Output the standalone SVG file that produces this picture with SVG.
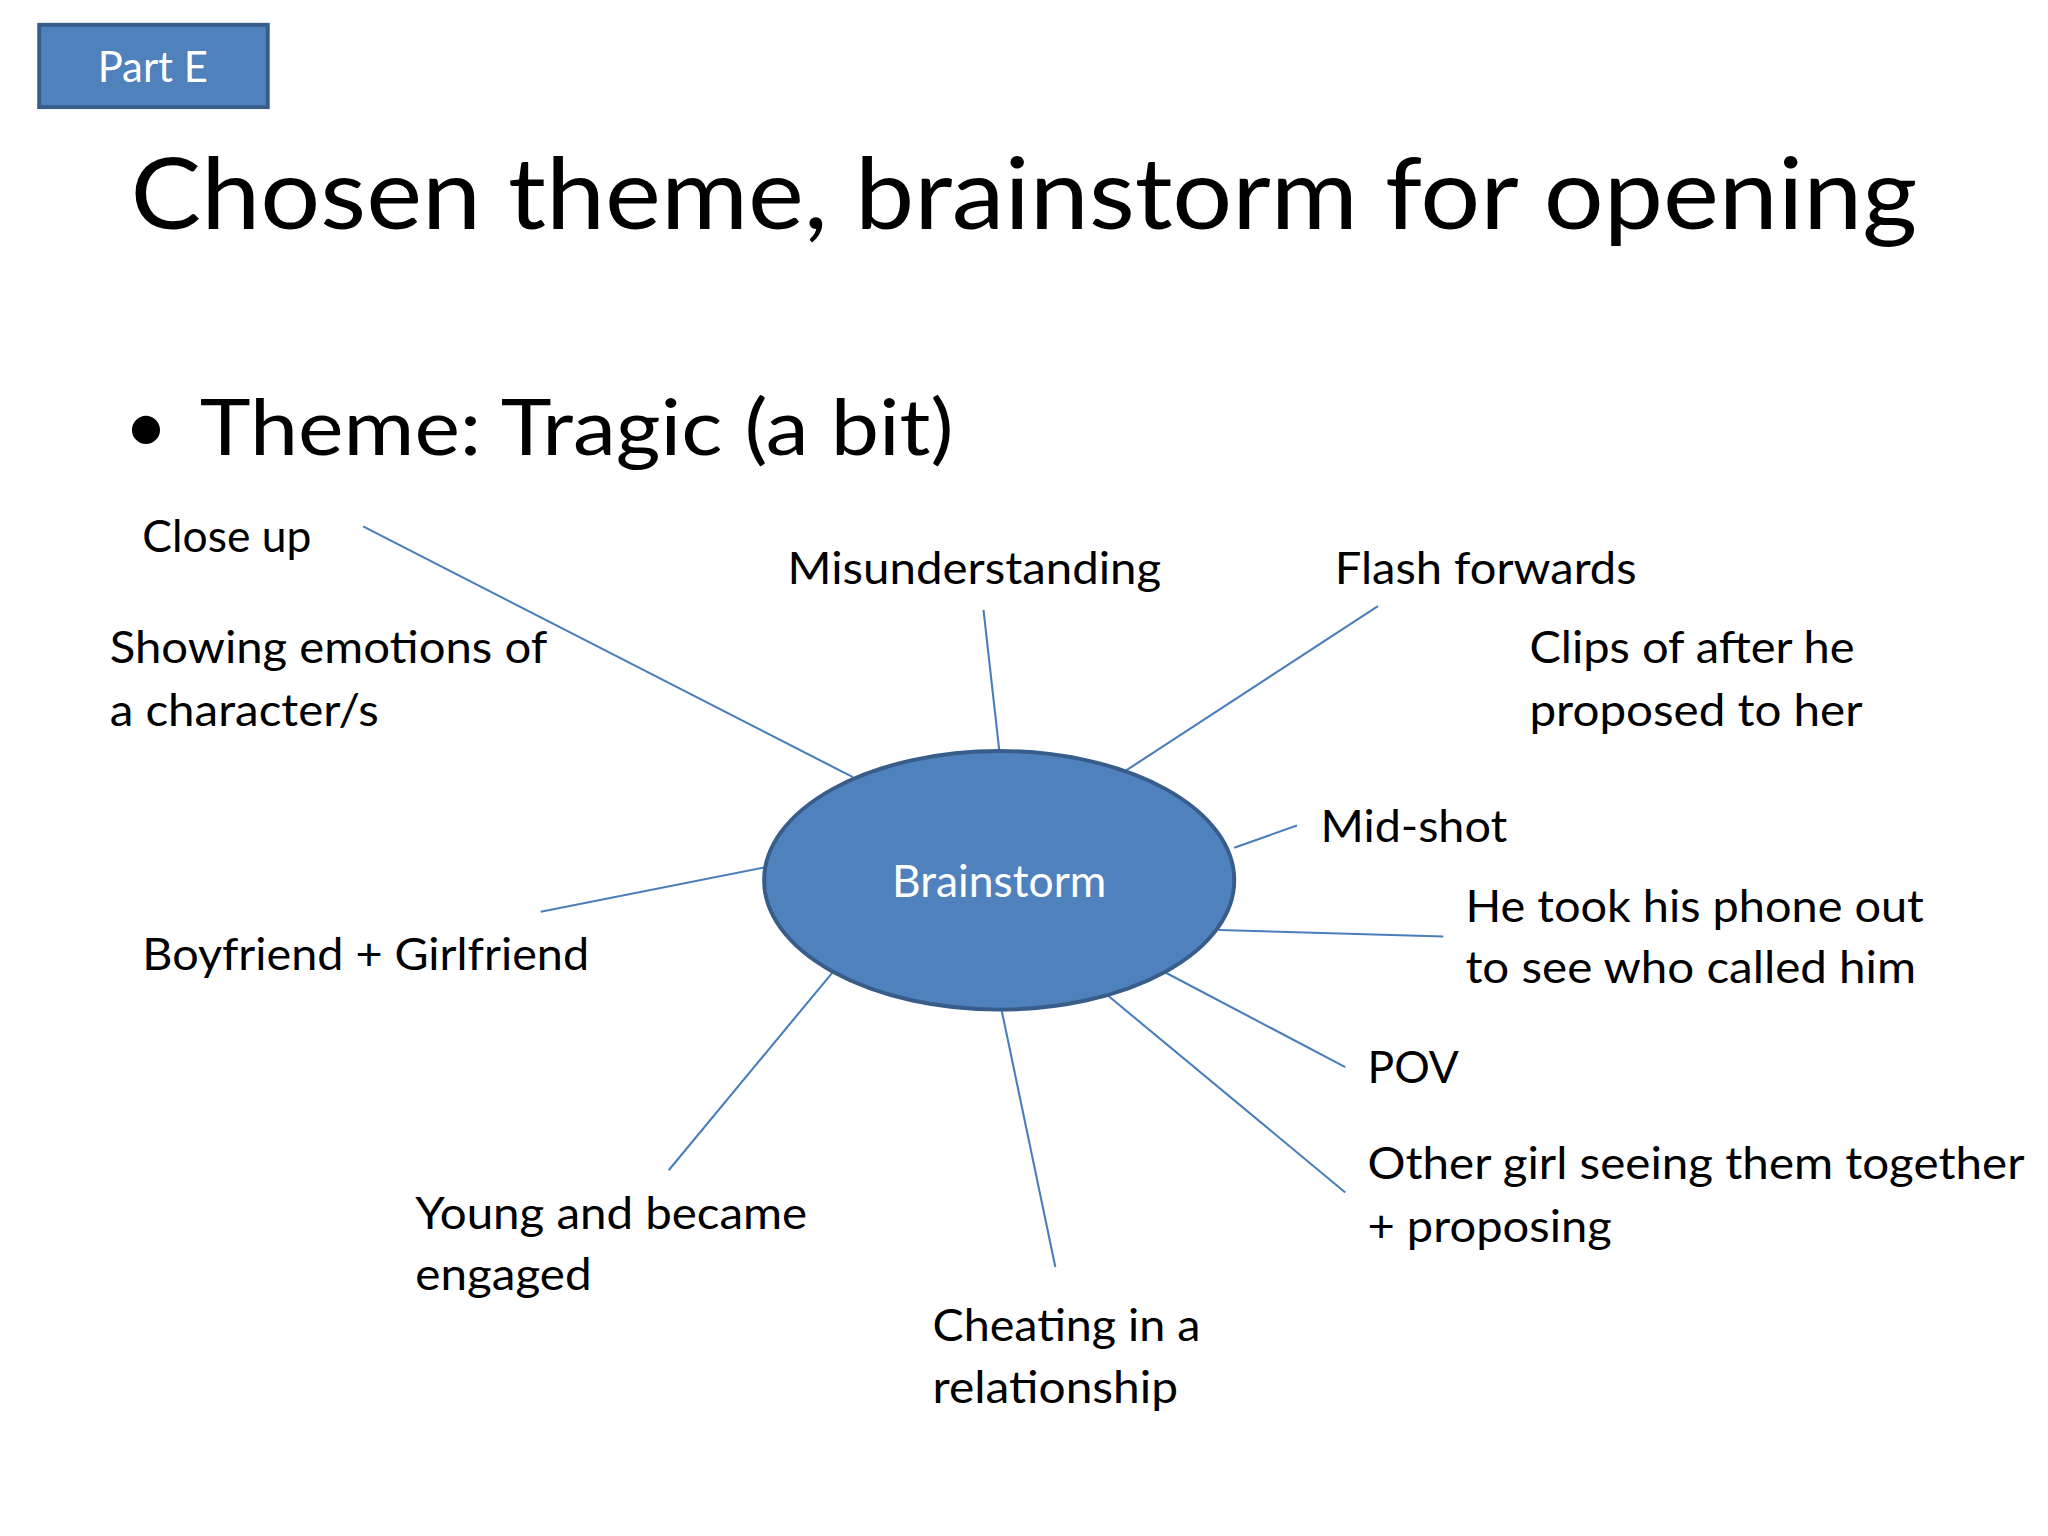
<svg xmlns="http://www.w3.org/2000/svg" width="2048" height="1536" viewBox="0 0 2048 1536">
<style>
.l{fill:#000;font-family:Lato,"Open Sans",sans-serif;font-size:34px}
.c{stroke:#4a7ebb;stroke-width:1.6;fill:none}
</style>
<rect width="2048" height="1536" fill="#fff"/>
<g transform="scale(1.3061)">
<g id="partE"><rect x="30" y="19" width="175" height="63" fill="#4f81bd" stroke="#385d8a" stroke-width="3"/><text x="117" y="63" text-anchor="middle" style="fill:#fff;font-family:Lato,sans-serif;font-size:32px">Part E</text></g>
<g id="title"><text x="100" y="175" textLength="1368" lengthAdjust="spacingAndGlyphs" style="font-family:Lato,sans-serif;font-size:76px">Chosen theme, brainstorm for opening</text></g>
<g id="theme"><text x="95" y="346" style="font-family:Lato,sans-serif;font-size:58px">•</text><text x="153" y="348" textLength="577" lengthAdjust="spacingAndGlyphs" style="font-family:Lato,sans-serif;font-size:60px">Theme: Tragic (a bit)</text></g>
<g id="connectors">
<line class="c" x1="278" y1="403" x2="653" y2="595"/>
<line class="c" x1="753" y1="467" x2="765" y2="574"/>
<line class="c" x1="1055" y1="464" x2="862" y2="590"/>
<line class="c" x1="993" y1="632" x2="945" y2="649"/>
<line class="c" x1="1105" y1="717" x2="933" y2="712"/>
<line class="c" x1="1030" y1="817" x2="893" y2="745"/>
<line class="c" x1="1030" y1="913" x2="848" y2="762"/>
<line class="c" x1="808" y1="970" x2="767" y2="774"/>
<line class="c" x1="512" y1="896" x2="637" y2="745"/>
<line class="c" x1="414" y1="698" x2="586" y2="664"/>
</g>
<g id="brainstorm"><ellipse cx="765" cy="674" rx="180" ry="99" fill="#4f81bd" stroke="#385d8a" stroke-width="3"/><text x="765" y="687" text-anchor="middle" style="fill:#fff;font-family:Lato,sans-serif;font-size:34px">Brainstorm</text></g>
<g id="n1"><text class="l" x="109" y="423">Close up</text></g>
<g id="n2"><text class="l" x="603" y="447" textLength="286" lengthAdjust="spacingAndGlyphs">Misunderstanding</text></g>
<g id="n3"><text class="l" x="1022" y="447" textLength="231" lengthAdjust="spacingAndGlyphs">Flash forwards</text></g>
<g id="n4"><text class="l" x="84" y="508" textLength="335" lengthAdjust="spacingAndGlyphs">Showing emotions of</text><text class="l" x="84" y="556" textLength="206" lengthAdjust="spacingAndGlyphs">a character/s</text></g>
<g id="n5"><text class="l" x="1171" y="508" textLength="249" lengthAdjust="spacingAndGlyphs">Clips of after he</text><text class="l" x="1171" y="556" textLength="255" lengthAdjust="spacingAndGlyphs">proposed to her</text></g>
<g id="n6"><text class="l" x="1011" y="645" textLength="143" lengthAdjust="spacingAndGlyphs">Mid-shot</text></g>
<g id="n7"><text class="l" x="109" y="743" textLength="342" lengthAdjust="spacingAndGlyphs">Boyfriend + Girlfriend</text></g>
<g id="n8"><text class="l" x="1122" y="706" textLength="351" lengthAdjust="spacingAndGlyphs">He took his phone out</text><text class="l" x="1122" y="753" textLength="345" lengthAdjust="spacingAndGlyphs">to see who called him</text></g>
<g id="n9"><text class="l" x="1047" y="829">POV</text></g>
<g id="n10"><text class="l" x="1047" y="903" textLength="503" lengthAdjust="spacingAndGlyphs">Other girl seeing them together</text><text class="l" x="1047" y="951" textLength="187" lengthAdjust="spacingAndGlyphs">+ proposing</text></g>
<g id="n11"><text class="l" x="318" y="941" textLength="300" lengthAdjust="spacingAndGlyphs">Young and became</text><text class="l" x="318" y="988" textLength="135" lengthAdjust="spacingAndGlyphs">engaged</text></g>
<g id="n12"><text class="l" x="714" y="1027" textLength="205" lengthAdjust="spacingAndGlyphs">Cheating in a</text><text class="l" x="714" y="1074" textLength="188" lengthAdjust="spacingAndGlyphs">relationship</text></g>
</g>
</svg>
